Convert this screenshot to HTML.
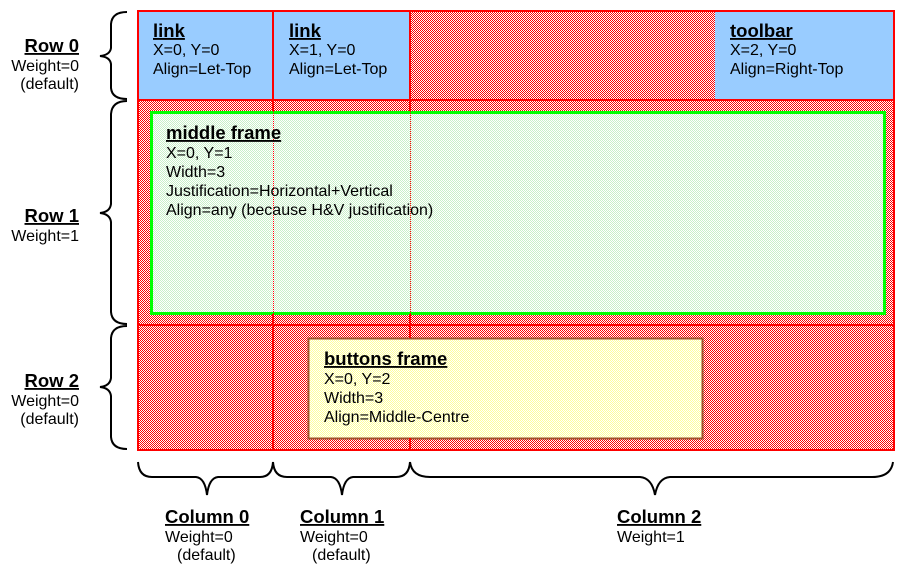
<!DOCTYPE html>
<html><head><meta charset="utf-8"><style>
html,body{margin:0;padding:0;background:#fff;}
svg{display:block;font-family:"Liberation Sans",Arial,sans-serif;}
.h{font-size:18.5px;font-weight:bold;text-decoration:underline;}
.t{font-size:16px;}
</style></head><body>
<svg width="906" height="576" viewBox="0 0 906 576" xmlns="http://www.w3.org/2000/svg">
<defs>
<pattern id="red" width="2" height="2" patternUnits="userSpaceOnUse">
<rect width="2" height="2" fill="#fff"/><rect width="1" height="1" fill="#f00"/><rect x="1" y="1" width="1" height="1" fill="#f00"/></pattern>
<pattern id="grn" width="2" height="2" patternUnits="userSpaceOnUse">
<rect width="2" height="2" fill="#fff"/><rect width="1" height="1" fill="#c8f0c8"/><rect x="1" y="1" width="1" height="1" fill="#c8f0c8"/></pattern>
<pattern id="yel" width="2" height="2" patternUnits="userSpaceOnUse">
<rect width="2" height="2" fill="#fff"/><rect width="1" height="1" fill="#ffff99"/><rect x="1" y="1" width="1" height="1" fill="#ffff99"/></pattern>
</defs>
<rect x="138" y="11" width="756" height="439" fill="url(#red)"/>
<rect x="138" y="11" width="272" height="89" fill="#99ccff"/>
<rect x="715" y="11" width="179" height="89" fill="#99ccff"/>
<rect x="151.5" y="112.5" width="733" height="201" fill="url(#grn)" stroke="#00ff00" stroke-width="3"/>
<rect x="308.5" y="338.5" width="394" height="100" fill="url(#yel)" stroke="#a0522d" stroke-width="2"/>
<g stroke="#f00" stroke-width="2" fill="none">
<rect x="138" y="11" width="756" height="439"/>
<line x1="138" y1="100" x2="894" y2="100"/>
<line x1="138" y1="325" x2="894" y2="325"/>
<line x1="273" y1="11" x2="273" y2="111"/>
<line x1="410" y1="11" x2="410" y2="111"/>
<line x1="273" y1="314" x2="273" y2="450"/>
<line x1="410" y1="314" x2="410" y2="338"/>
<line x1="410" y1="438" x2="410" y2="450"/>
</g>
<g stroke="#f00" stroke-width="1" stroke-dasharray="1,1">
<line x1="273.5" y1="111" x2="273.5" y2="314"/>
<line x1="410.5" y1="111" x2="410.5" y2="314"/>
</g>
<text x="153" y="37" class="h">link</text>
<text x="153" y="55" class="t">X=0, Y=0</text>
<text x="153" y="74" class="t">Align=Let-Top</text>
<text x="289" y="37" class="h">link</text>
<text x="289" y="55" class="t">X=1, Y=0</text>
<text x="289" y="74" class="t">Align=Let-Top</text>
<text x="730" y="37" class="h">toolbar</text>
<text x="730" y="55" class="t">X=2, Y=0</text>
<text x="730" y="74" class="t">Align=Right-Top</text>
<text x="166" y="139" class="h">middle frame</text>
<text x="166" y="158" class="t">X=0, Y=1</text>
<text x="166" y="177" class="t">Width=3</text>
<text x="166" y="196" class="t">Justification=Horizontal+Vertical</text>
<text x="166" y="215" class="t">Align=any (because H&amp;V justification)</text>
<text x="324" y="365" class="h">buttons frame</text>
<text x="324" y="384" class="t">X=0, Y=2</text>
<text x="324" y="403" class="t">Width=3</text>
<text x="324" y="422" class="t">Align=Middle-Centre</text>
<g stroke="#000" stroke-width="2" fill="none">
<path d="M127,12 Q112,12 111,24 L111,48 Q110,55 100,56 Q110,57 111,64 L111,88 Q112,99 127,99"/>
<path d="M127,101 Q112,101 111,114 L111,204 Q110,212 100,213 Q110,214 111,222 L111,312 Q112,324 127,324"/>
<path d="M127,326 Q112,326 111,338 L111,378 Q110,386 100,387 Q110,388 111,396 L111,437 Q112,449 127,449"/>
<path d="M138,462 Q139,477 152,477 L196,477 Q205,478 207,495 Q209,478 218,477 L260,477 Q272,477 273,462"/>
<path d="M273,462 Q274,477 287,477 L331,477 Q340,478 342,495 Q344,478 353,477 L396,477 Q409,477 410,462"/>
<path d="M410,462 Q412,477 430,477 L640,477 Q652,478 655,495 Q658,478 670,477 L872,477 Q891,477 893,462"/>
</g>
<g text-anchor="end">
<text x="79" y="52" class="h">Row 0</text>
<text x="79" y="71" class="t">Weight=0</text>
<text x="79" y="89" class="t">(default)</text>
<text x="79" y="222" class="h">Row 1</text>
<text x="79" y="241" class="t">Weight=1</text>
<text x="79" y="387" class="h">Row 2</text>
<text x="79" y="406" class="t">Weight=0</text>
<text x="79" y="424" class="t">(default)</text>
</g>
<text x="165" y="523" class="h">Column 0</text>
<text x="165" y="542" class="t">Weight=0</text>
<text x="177" y="560" class="t">(default)</text>
<text x="300" y="523" class="h">Column 1</text>
<text x="300" y="542" class="t">Weight=0</text>
<text x="312" y="560" class="t">(default)</text>
<text x="617" y="523" class="h">Column 2</text>
<text x="617" y="542" class="t">Weight=1</text>
</svg>
</body></html>
